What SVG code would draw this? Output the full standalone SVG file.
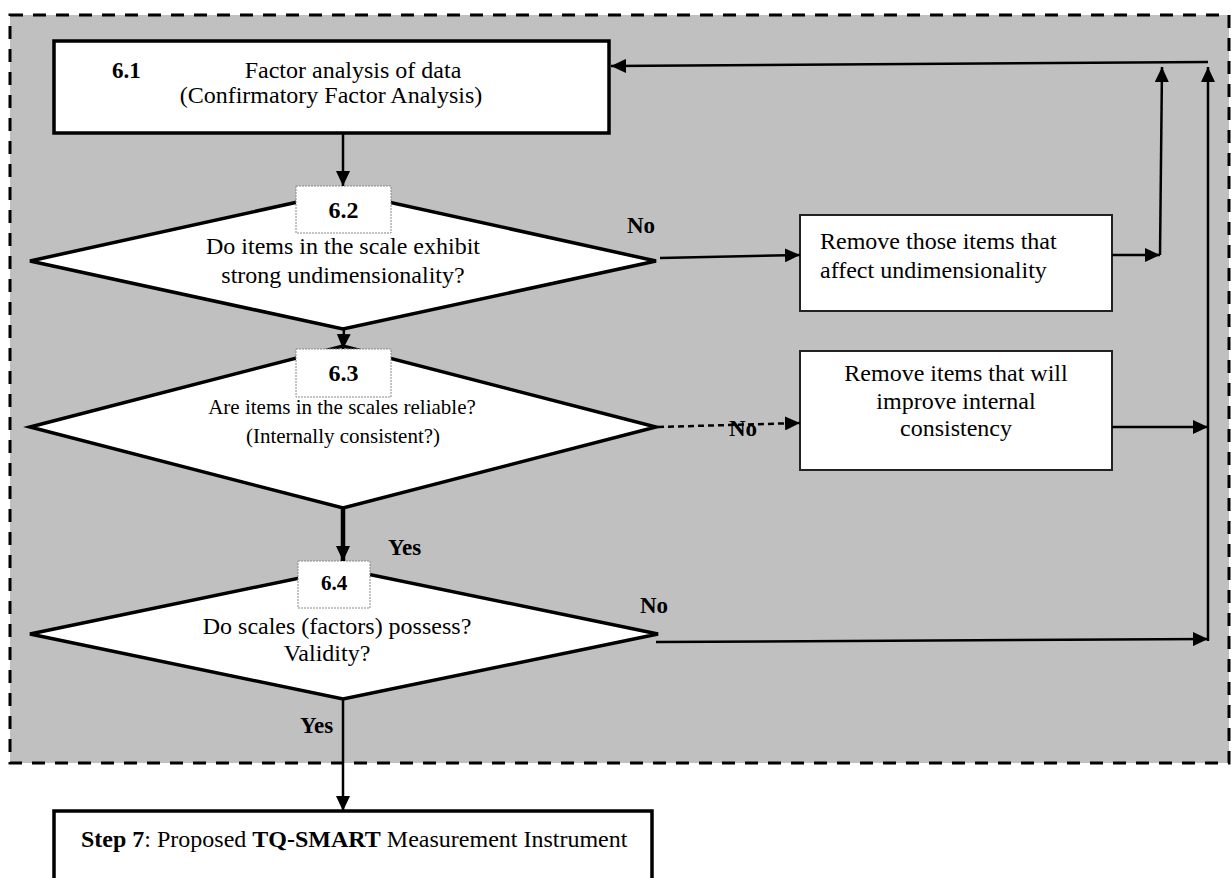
<svg xmlns="http://www.w3.org/2000/svg" width="1231" height="878" viewBox="0 0 1231 878">
<defs>
<marker id="ah" markerUnits="userSpaceOnUse" markerWidth="16" markerHeight="14" refX="15" refY="7" orient="auto">
<path d="M0,0 L15,7 L0,14 z" fill="#000"/>
</marker>
<style>
.t{font-family:"Liberation Serif","Times New Roman",serif;font-size:24px;fill:#000}
.s{font-size:21px}
.b{font-weight:bold}
.c{text-anchor:middle}
.box{fill:#fff;stroke:#000;stroke-width:3.5}
.rb{fill:#fff;stroke:#222;stroke-width:2}
.dia{fill:#fff;stroke:#000;stroke-width:3.5}
.lab{fill:#fff;stroke:#888;stroke-width:1;stroke-dasharray:2,1}
.ln{fill:none;stroke:#000;stroke-width:2.5}
.ar{marker-end:url(#ah)}
</style>
</defs>
<rect x="10" y="15" width="1219" height="748" fill="#c0c0c0" stroke="#000" stroke-width="3" stroke-dasharray="13,10"/>

<g id="n61">
<rect class="box" x="54" y="41" width="555" height="92"/>
<text class="t b" style="font-size:23px" x="112" y="78">6.1</text>
<text class="t c" x="353" y="78">Factor analysis of data</text>
<text class="t c" x="331" y="103">(Confirmatory Factor Analysis)</text>
</g>

<g id="n62">
<polygon class="dia" points="30,261 343,192 656,261 343,329"/>
<rect class="lab" x="296" y="186" width="95" height="47"/>
<text class="t b c" x="343.5" y="218">6.2</text>
<text class="t c" x="343" y="254">Do items in the scale exhibit</text>
<text class="t c" x="343" y="283">strong undimensionality?</text>
</g>

<g id="n63">
<polygon class="dia" points="30,427 343,346 656,427 343,508"/>
<rect class="lab" x="296" y="349" width="95" height="48"/>
<text class="t b c" x="343.5" y="381">6.3</text>
<text class="t s c" x="342" y="414">Are items in the scales reliable?</text>
<text class="t s c" x="343" y="443">(Internally consistent?)</text>
</g>

<g id="n64">
<polygon class="dia" points="30,634 343,569 658,634 343,699"/>
<rect class="lab" x="298" y="561" width="72" height="47"/>
<text class="t b c" style="font-size:21px" x="334" y="590">6.4</text>
<text class="t c" x="337" y="634">Do scales (factors) possess?</text>
<text class="t c" x="327" y="661">Validity?</text>
</g>

<g id="nA">
<rect class="rb" x="800" y="215" width="312" height="96"/>
<text class="t" x="820" y="249">Remove those items that</text>
<text class="t" x="820" y="278">affect undimensionality</text>
</g>

<g id="nB">
<rect class="rb" x="800" y="351" width="312" height="119"/>
<text class="t c" x="956" y="381">Remove items that will</text>
<text class="t c" x="956" y="409">improve internal</text>
<text class="t c" x="956" y="436">consistency</text>
</g>

<g id="n7">
<rect class="box" x="54" y="811" width="598" height="80"/>
<text class="t" x="81" y="847"><tspan class="b">Step 7</tspan>: Proposed <tspan class="b">TQ-SMART</tspan> Measurement Instrument</text>
</g>

<g id="connectors">
<line class="ln ar" x1="343" y1="133" x2="343" y2="186"/>
<line class="ln ar" x1="344" y1="329" x2="343" y2="349"/>
<line class="ln ar" style="stroke-width:4.5" x1="343" y1="508" x2="343" y2="561"/>
<line class="ln ar" x1="343" y1="699" x2="343" y2="811"/>
<line class="ln ar" x1="660" y1="258" x2="800" y2="255"/>
<line class="ln ar" x1="1112" y1="255" x2="1160" y2="255"/>
<line class="ln ar" x1="1160" y1="255" x2="1162" y2="67"/>
<line class="ln ar" x1="1208" y1="62" x2="611" y2="66"/>
<line class="ln ar" x1="1208" y1="641" x2="1208" y2="67"/>
<line class="ln ar" style="stroke-dasharray:6,4" x1="658" y1="427" x2="800" y2="423"/>
<line class="ln ar" x1="1112" y1="427" x2="1208" y2="427"/>
<line class="ln ar" x1="656" y1="642" x2="1208" y2="639"/>
<text class="t b" style="font-size:23px" x="627" y="233">No</text>
<text class="t b" style="font-size:23px" x="729" y="436">No</text>
<text class="t b" style="font-size:23px" x="640" y="613">No</text>
<text class="t b" style="font-size:23px" x="388" y="555">Yes</text>
<text class="t b" style="font-size:23px" x="300" y="733">Yes</text>
</g>
</svg>
